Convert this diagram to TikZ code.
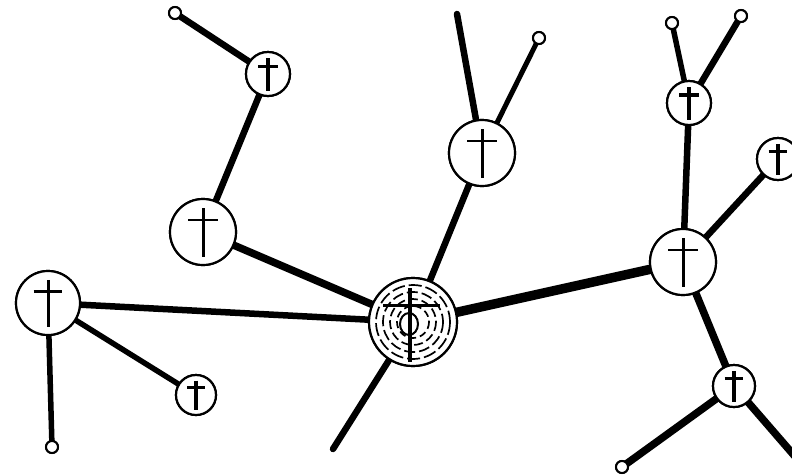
\documentclass[tikz,border=0pt]{standalone}
\tikzset{
  nd/.style={circle, draw, line width=2.2pt, fill=white, inner sep=0pt},
  tip/.style={circle, draw, line width=2pt, fill=white, inner sep=0pt, minimum size=12pt},
  link/.style={line width=6.5pt, line cap=round},
}
\newcommand\ncross[3]{%
  \draw[line width=#3, line cap=butt] ([shift={(0,-0.72*#2)}]#1.center) -- ([shift={(0,0.76*#2)}]#1.center);
  \draw[line width=#3*0.8, line cap=butt] ([shift={(-0.45*#2,-0.36*#2)}]#1.center) -- ([shift={(0.45*#2,-0.36*#2)}]#1.center);
}
\begin{document}
\begin{tikzpicture}[x=1pt,y=-1pt]
\clip (0,0) rectangle (792,475);
\fill[white] (0,0) rectangle (792,475);
% nodes (positions)
\node[nd, minimum size=88pt] (c) at (413,322) {};
\node[nd, minimum size=64pt] (L) at (48,303) {};
\node[nd, minimum size=66pt] (A) at (203,232) {};
\node[nd, minimum size=44pt] (B) at (268,74) {};
\node[nd, minimum size=40pt] (D) at (196,395) {};
\node[nd, minimum size=66pt] (E) at (482,153) {};
\node[nd, minimum size=66pt] (R) at (683,262) {};
\node[nd, minimum size=44pt] (F) at (689,103) {};
\node[nd, minimum size=42pt] (G) at (778,159) {};
\node[nd, minimum size=42pt] (H) at (734,386) {};
\node[tip] (e1) at (175,13) {};
\node[tip] (e2) at (52,447) {};
\node[tip] (e3) at (539,38) {};
\node[tip] (e4) at (672,23) {};
\node[tip] (e5) at (741,16) {};
\node[tip] (e6) at (622,467) {};
\coordinate (f1) at (457,14);
\coordinate (f2) at (333,449);
\coordinate (f3) at (805,468);
% connectors
\draw[link] (L.center) -- (c.center);
\draw[link, line width=7.5pt] (A.center) -- (c.center);
\draw[link] (c.center) -- (E.center);
\draw[link, line width=9.5pt] (c.center) -- (R.center);
\draw[link] (c.center) -- (f2);
\draw[link] (R.center) -- (F.center);
\draw[link] (R.center) -- (G.center);
\draw[link, line width=7.5pt] (R.center) -- (H.center);
\draw[link, line width=7.5pt] (H.center) -- (e6.center);
\draw[link, line width=7.5pt] (H.center) -- (f3);
\draw[link, line width=5.5pt] (F.center) -- (e4.center);
\draw[link] (F.center) -- (e5.center);
\draw[link] (E.center) -- (f1);
\draw[link, line width=5pt] (E.center) -- (e3.center);
\draw[link] (B.center) -- (e1.center);
\draw[link] (A.center) -- (B.center);
\draw[link, line width=5.5pt] (L.center) -- (D.center);
\draw[link, line width=5.5pt] (L.center) -- (e2.center);
% redraw nodes on top
\foreach \n/\s in {c/88,L/64,A/66,B/44,D/40,E/66,R/66,F/44,G/42,H/42}{
  \node[nd, minimum size=\s pt] at (\n) {};
}
\foreach \n in {e1,e2,e3,e4,e5,e6}{
  \node[tip] at (\n) {};
}
% crosses
\ncross{L}{32}{3pt}
\ncross{A}{33}{3pt}
\ncross{B}{22}{3.8pt}
\ncross{D}{20}{3.8pt}
\ncross{E}{33}{3pt}
\ncross{R}{33}{3pt}
\ncross{F}{22}{4pt}
\ncross{G}{21}{4pt}
\ncross{H}{21}{4pt}
% centre emblem
\foreach \r/\d in {37/13,30/11,23/9,16/7}{
  \draw[line width=1.7pt, dash pattern=on \d pt off 4pt] (c.center) circle (\r);
}
\draw[line width=2pt] ([shift={(-4,2)}]c.center) ellipse (9 and 11);
\draw[line width=4.5pt] ([shift={(-3,-34)}]c.center) -- ([shift={(-3,40)}]c.center);
\draw[line width=3pt] ([shift={(-30,-17)}]c.center) -- ([shift={(27,-17)}]c.center);
\end{tikzpicture}
\end{document}
